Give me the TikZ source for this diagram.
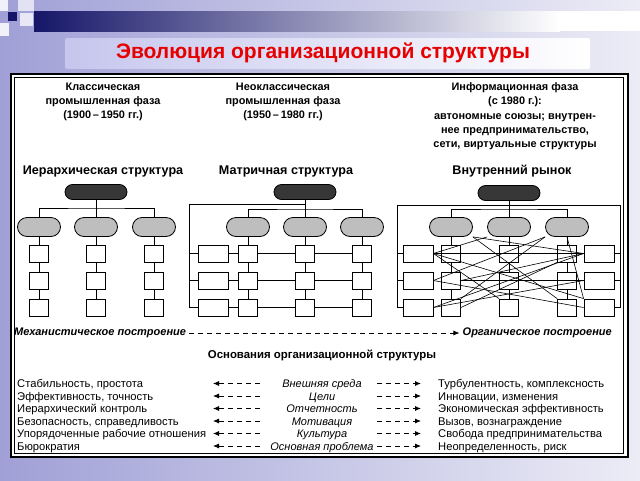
\documentclass[tikz,border=0pt]{standalone}
\usepackage{fontspec}
\setmainfont{Liberation Sans}
\usetikzlibrary{arrows.meta}
\pgfdeclarelayer{back}
\pgfdeclarelayer{lines}
\pgfsetlayers{back,lines,main}
\definecolor{navyband}{RGB}{22,22,105}
\definecolor{lavbg}{RGB}{160,160,215}
\definecolor{lightbg}{RGB}{236,236,246}
\definecolor{titlebox}{RGB}{198,198,238}
\definecolor{titlered}{RGB}{230,0,0}
\definecolor{darkpill}{RGB}{55,55,55}
\definecolor{graypill}{RGB}{190,190,190}
\begin{document}
\begin{tikzpicture}[x=1pt,y=-1pt,
  hdr/.style={font=\bfseries\fontsize{10.9}{14.3}\selectfont, align=center, inner sep=0},
  sttl/.style={font=\bfseries\fontsize{12.6}{14}\selectfont, inner sep=0},
  axtxt/.style={font=\bfseries\itshape\fontsize{11}{13}\selectfont, inner sep=0},
  rowtxt/.style={font=\fontsize{11.2}{12}\selectfont, inner sep=0},
  midtxt/.style={font=\itshape\fontsize{11}{12}\selectfont, inner sep=0},
  topbox/.style={draw, line width=0.8pt, fill=darkpill, minimum width=62pt, minimum height=15pt, rounded corners=7.5pt, inner sep=0},
  midbox/.style={draw, line width=0.8pt, fill=graypill, minimum width=43pt, minimum height=19pt, rounded corners=9.5pt, inner sep=0},
  sq/.style={draw, line width=0.8pt, fill=white, minimum width=19pt, minimum height=17pt, inner sep=0},
  widebox/.style={sq, minimum width=30pt},
  conn/.style={line width=0.7pt},
  xconn/.style={line width=0.6pt},
  dasharrow/.style={line width=0.8pt, dash pattern=on 5pt off 4pt, -{Latex[length=6pt,width=5pt]}}
]
\useasboundingbox (0,0) rectangle (640,480);
\begin{pgfonlayer}{back}
  \shade[left color=lavbg, right color=lightbg] (0,0) rectangle (640,480);
  % top-left squares
  \fill[white!85!lavbg] (0,0) rectangle (8,11);
  \fill[white!70!lavbg] (18,0) rectangle (34,11);
  \fill[navyband] (8,12) rectangle (17,21);
  \fill[white!75!lavbg] (20,13) rectangle (33,26);
  \fill[white!85!lavbg] (0,23) rectangle (9,36);
  % band
  \shade[left color=navyband, right color=white] (34,11) rectangle (560,31);
  \fill[white] (560,11) rectangle (640,31);
  % title box
  \shade[left color=titlebox, right color=white, rounded corners=2pt] (65,38) rectangle (590,69);
  % frame
  \fill[white] (11,74) rectangle (628,457);
  \draw[line width=2.5pt] (11,74) rectangle (628,457);
  \draw[line width=0.8pt] (14.5,77.5) rectangle (623.5,453.5);
\end{pgfonlayer}

\node[font=\bfseries\fontsize{21}{24}\selectfont, text=titlered] (title) at (323,53) {Эволюция организационной структуры};

% headers
\node[hdr, anchor=north] (h1) at (103,82.5) {Классическая\\промышленная фаза\\(1900\,--\,1950 гг.)};
\node[hdr, anchor=north] (h2) at (283,82.5) {Неоклассическая\\промышленная фаза\\(1950\,--\,1980 гг.)};
\node[hdr, anchor=north] (h3) at (515,82.5) {Информационная фаза\\(с 1980 г.):\\автономные союзы; внутрен-\\нее предпринимательство,\\сети, виртуальные структуры};

\node[sttl] (st1) at (103,171) {Иерархическая структура};
\node[sttl] (st2) at (286,171) {Матричная структура};
\node[sttl] (st3) at (512,171) {Внутренний рынок};

% ---------- diagram 1 ----------
\node[topbox] (t1) at (96,192) {};
\foreach \i/\x in {1/39,2/96,3/154}{
  \node[midbox] (p1\i) at (\x,227) {};
  \foreach \j/\y in {1/253.5,2/280.5,3/307.5}
    \node[sq] (s1\i\j) at (\x,\y) {};
}
\coordinate (b1) at (96,208);
\begin{pgfonlayer}{lines}
  \draw[conn] (t1) -- (b1);
  \draw[conn] (p11) |- (b1) -| (p13);
  \draw[conn] (p12) -- (b1);
  \foreach \i in {1,2,3} \draw[conn] (p1\i) -- (s1\i3);
\end{pgfonlayer}

% ---------- diagram 2 ----------
\node[topbox] (t2) at (305,192) {};
\foreach \i/\x in {1/248,2/305,3/362}{
  \node[midbox] (p2\i) at (\x,227) {};
  \foreach \j/\y in {1/253.5,2/280.5,3/307.5}
    \node[sq] (s2\i\j) at (\x,\y) {};
}
\foreach \j/\y in {1/253.5,2/280.5,3/307.5}
  \node[widebox] (r2\j) at (213,\y) {};
\coordinate (o2) at (189,204);
\coordinate (b2) at (305,209);
\begin{pgfonlayer}{lines}
  \draw[conn] (t2) -- (b2);
  \draw[conn] (p21) |- (b2) -| (p23);
  \draw[conn] (p22) -- (b2);
  \draw[conn] (t2 |- o2) -- (o2) |- (r23);
  \draw[conn] (o2 |- r21) -- (r21);
  \draw[conn] (o2 |- r22) -- (r22);
  \foreach \i in {1,2,3} \draw[conn] (p2\i) -- (s2\i3);
  \foreach \j in {1,2,3} \draw[conn] (r2\j) -- (s23\j);
\end{pgfonlayer}

% ---------- diagram 3 ----------
\node[topbox] (t3) at (509,193) {};
\foreach \i/\x in {1/451,2/509,3/567}{
  \node[midbox] (p3\i) at (\x,227) {};
  \foreach \j/\y in {1/253.5,2/280.5,3/307.5}
    \node[sq] (s3\i\j) at (\x,\y) {};
}
\foreach \j/\y in {1/253.5,2/280.5,3/307.5}{
  \node[widebox] (L3\j) at (418,\y) {};
  \node[widebox] (R3\j) at (599,\y) {};
}
\coordinate (o3l) at (397,205);
\coordinate (o3r) at (620,205);
\coordinate (b3) at (509,209);
\begin{pgfonlayer}{lines}
  \draw[conn] (t3) -- (b3);
  \draw[conn] (p31) |- (b3) -| (p33);
  \draw[conn] (p32) -- (b3);
  \draw[conn] (o3l |- L33) -- (o3l) -- (o3r) -- (o3r |- R33);
  \foreach \j in {1,2,3}{
    \draw[conn] (o3l |- L3\j) -- (L3\j);
    \draw[conn] (o3r |- R3\j) -- (R3\j);
  }
  \foreach \i in {1,2,3} \draw[conn] (p3\i) -- (s3\i3);
\end{pgfonlayer}
% crossing links
\draw[xconn] (p32.south west) -- (L31.east);
\draw[xconn] (L31.east) -- (s323.north west);
\draw[xconn] (L31.east) -- (R33.north west);
\draw[xconn] (L31.east) -- (R31.west);
\draw[xconn] (p31.south east) -- (R31.west);
\draw[xconn] (p31.south east) -- (s333.north west);
\draw[xconn] (p33.south west) -- (L32.east);
\draw[xconn] (p33.south west) -- (s313.north east);
\draw[xconn] (p33.south) -- (R33.north west);
\draw[xconn] (R31.west) -- (L33.east);
\draw[xconn] (R31.west) -- (s312.east);
\draw[xconn] (L32.east) -- (R33.west);
\draw[xconn] (s312.east) -- (R32.west);
\draw[xconn] (s313.east) -- (s331.south west);
\draw[xconn] (L33.east) -- (R32.west);

% ---------- axis ----------
\node[axtxt, anchor=west] (mech) at (14,333) {Механистическое построение};
\node[axtxt, anchor=east] (org) at (612,333) {Органическое построение};
\draw[dasharrow] ([xshift=3pt]mech.east) -- ([xshift=-3pt]org.west);

\node[font=\bfseries\fontsize{11.4}{13}\selectfont, inner sep=0] (base) at (322,355) {Основания организационной структуры};

% ---------- table ----------
\foreach \k/\y/\lt/\mt/\rt in {
  1/383.5/{Стабильность, простота}/{Внешняя среда}/{Турбулентность, комплексность},
  2/396/{Эффективность, точность}/{Цели}/{Инновации, изменения},
  3/408.5/{Иерархический контроль}/{Отчетность}/{Экономическая эффективность},
  4/421/{Безопасность, справедливость}/{Мотивация}/{Вызов, вознаграждение},
  5/433.5/{Упорядоченные рабочие отношения}/{Культура}/{Свобода предпринимательства},
  6/446/{Бюрократия}/{Основная проблема}/{Неопределенность, риск}}{
  \node[rowtxt, anchor=base west] (lt\k) at (17,\y+4) {\lt};
  \node[midtxt, anchor=base] (mt\k) at (322,\y+4) {\mt};
  \node[rowtxt, anchor=base west] (rt\k) at (438,\y+4) {\rt};
  \coordinate (la\k) at (260,\y);
  \coordinate (lb\k) at (213,\y);
  \coordinate (ra\k) at (377,\y);
  \coordinate (rb\k) at (421,\y);
  \draw[dasharrow] (la\k) -- (lb\k);
  \draw[dasharrow] (ra\k) -- (rb\k);
}
\end{tikzpicture}
\end{document}
